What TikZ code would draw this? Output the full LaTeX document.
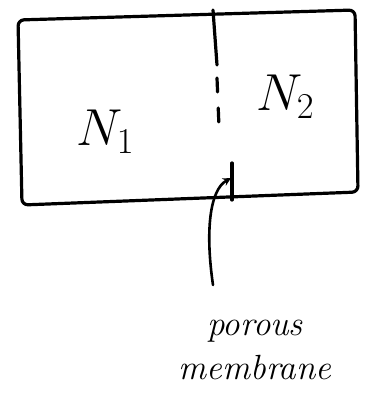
\RequirePackage{fix-cm}
\documentclass[tikz,border=0pt]{standalone}
\usetikzlibrary{arrows.meta}
\begin{document}
\begin{tikzpicture}[x=1pt,y=-1pt,>=stealth, line join=round, line cap=round, line width=3.2pt,
  label/.style={font=\fontsize{35}{44}\selectfont\itshape, align=center, inner sep=0pt},
  gas/.style={font=\fontsize{52}{56}\selectfont, inner sep=0pt}]
					\def\xmin{0} \def\xmax{369}  \def\ymin{0}\def\ymax{412}
					\useasboundingbox (\xmin,\ymin) rectangle (\xmax,\ymax);
					% box
					\draw[rounded corners=6pt] (22,205) -- (18,20) -- (355,10) -- (358,192) -- cycle;
					% membrane
					\coordinate (mtop) at (213,10);
					\coordinate (mbot) at (232,200);
					\coordinate (mhit) at (231,178);
					\draw (mtop) -- (217,65);
					\draw[dash pattern=on 14pt off 16pt] (217,78) -- (219,127);
					\draw (232,163) -- (mbot);
					\node[gas] (n1) at (105,132) {$N_1$};
					\node[gas] (n2) at (285,97) {$N_2$};
					\node[label] (pm) at (255,350) {porous\\membrane};
					\draw[->, line width=2.6pt] (213,285) .. controls (205,230) and (210,190) .. (mhit);
				\end{tikzpicture}
\end{document}
